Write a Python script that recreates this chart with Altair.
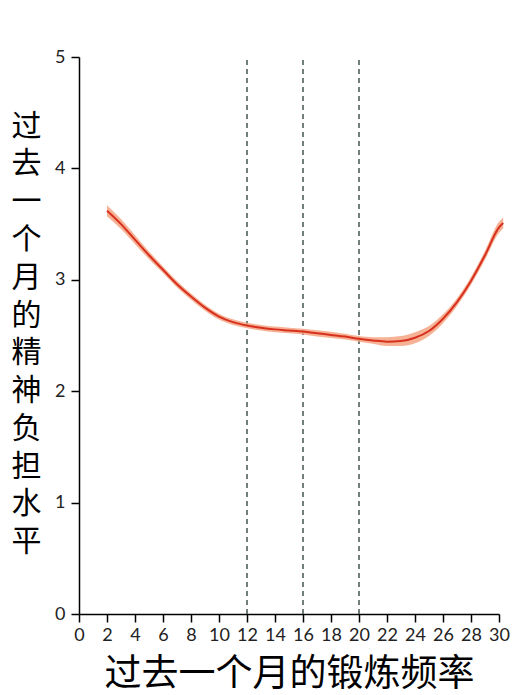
import altair as alt
import pandas as pd

# Data
x_vals = [2, 3, 4, 5, 6, 7, 8, 9, 10, 11, 12, 13, 14, 15, 16, 17, 18, 19, 20,
          21, 22, 23, 24, 25, 26, 27, 28, 29, 30, 30.3]
y_mid = [3.62, 3.50, 3.36, 3.22, 3.09, 2.96, 2.85, 2.75, 2.67, 2.62, 2.59, 2.57,
         2.555, 2.545, 2.535, 2.52, 2.505, 2.49, 2.47, 2.455, 2.445, 2.45, 2.48,
         2.54, 2.65, 2.80, 2.99, 3.22, 3.47, 3.51]
half_w = [0.05, 0.045, 0.04, 0.035, 0.03, 0.03, 0.028, 0.027, 0.026, 0.025, 0.025,
          0.025, 0.025, 0.025, 0.025, 0.028, 0.028, 0.026, 0.026, 0.03, 0.04, 0.045,
          0.05, 0.045, 0.04, 0.035, 0.035, 0.04, 0.05, 0.05]
cut_points = [12, 16, 20]
x_ticks = list(range(0, 31, 2))
y_ticks = [0, 1, 2, 3, 4, 5]
x_title = "过去一个月的锻炼频率"
y_title = "过去一个月的精神负担水平"

df = pd.DataFrame({
    "x": x_vals,
    "y": y_mid,
    "lo": [m - h for m, h in zip(y_mid, half_w)],
    "hi": [m + h for m, h in zip(y_mid, half_w)],
})
cuts = pd.DataFrame({"x": cut_points, "y0": [0] * len(cut_points), "y1": [5] * len(cut_points)})

xs = alt.Scale(domain=[0, 30], nice=False, zero=False)
ys = alt.Scale(domain=[0, 5], nice=False)

x_axis = alt.Axis(values=x_ticks, title=x_title, grid=False, labelFlush=False,
                  labelOverlap=False, format="d",
                  titleFontSize=37, titleFont="Noto Sans CJK SC", titleFontWeight="normal",
                  titleColor="#000000", titleY=60, titleBaseline="middle",
                  labelPadding=4)
y_axis = alt.Axis(values=y_ticks, title=list(y_title), grid=False, labelFlush=False,
                  labelOverlap=False, format="d",
                  titleAngle=0, titleFontSize=30, titleLineHeight=37.8,
                  titleFont="Noto Sans CJK SC", titleFontWeight="normal",
                  titleColor="#000000", titleX=-53, titleY=69,
                  titleAlign="center", titleBaseline="middle", labelPadding=6)

rules = alt.Chart(cuts).mark_rule(color="#4f5f5a", strokeDash=[5, 4], strokeWidth=1.6).encode(
    x=alt.X("x:Q", scale=xs, axis=x_axis),
    y=alt.Y("y0:Q", scale=ys, axis=y_axis),
    y2="y1:Q",
)
band = alt.Chart(df).mark_area(color="#f4a582", opacity=0.85, interpolate="monotone").encode(
    x=alt.X("x:Q", scale=xs, axis=x_axis),
    y=alt.Y("lo:Q", scale=ys, axis=y_axis),
    y2="hi:Q",
)
line = alt.Chart(df).mark_line(color="#d7301f", strokeWidth=2, interpolate="monotone").encode(
    x=alt.X("x:Q", scale=xs, axis=x_axis),
    y=alt.Y("y:Q", scale=ys, axis=y_axis),
)

chart = alt.layer(rules, band, line).properties(
    width=420,
    height=557,
    autosize=alt.AutoSizeParams(type="none"),
    padding={"left": 71, "top": 49, "right": 20, "bottom": 81},
).configure_view(stroke=None).configure_axis(
    domainColor="#000000", domainWidth=1.5, tickColor="#000000", tickWidth=1.5,
    tickSize=8, labelFont="Lato", labelFontSize=18, labelColor="#222222",
)

chart.save("out.html", embed_options={"renderer": "svg", "actions": False})
